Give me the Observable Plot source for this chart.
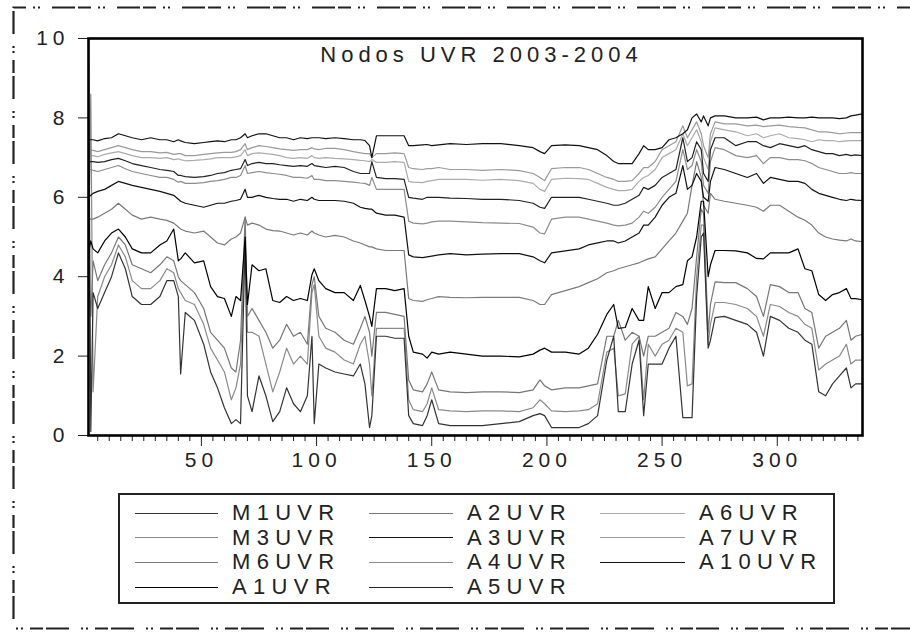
<!DOCTYPE html>
<html><head><meta charset="utf-8">
<script src="https://cdn.jsdelivr.net/npm/d3@7"></script>
<script src="https://cdn.jsdelivr.net/npm/@observablehq/plot@0.6"></script>
<style>
body{margin:0;background:#fff;}
#wrap{position:relative;width:910px;height:636px;overflow:hidden;font-family:"Liberation Sans",Arial,sans-serif;color:#222;}
#chart svg text{letter-spacing:5px;}
#chart svg .ttl{letter-spacing:5.4px;}
#legend{position:absolute;left:118px;top:493px;width:717px;height:111px;border:2px solid #222;box-sizing:border-box;}
.li{position:absolute;height:24px;display:flex;align-items:center;font-size:22px;letter-spacing:6.3px;white-space:nowrap;}
.li span.sw{display:inline-block;height:0;border-top:1.6px solid #000;margin-right:14px;}
#border{position:absolute;left:0;top:0;}
</style></head>
<body><div id="wrap"><div id="chart"></div><div id="legend"></div>
<svg id="border" width="910" height="636"><path d="M950 7.5 H13.5 V628.5 H950" fill="none" stroke="#222" stroke-width="2.2" stroke-dasharray="2 3 2 7 13 3 23 12"/></svg></div>
<script>
const days = [1,2,3,5,8, 11,14,17,20,24, 28,32,35,38,40, 41,43,47,51,54, 57,60,63,65,67, 69,70,72,75,78,
 81,84,87,90,93, 96,98,99,101,104, 108,112,116,119,121, 123,124,126,130,134, 138,140,142,146,148,
 150,153,158,165,172, 180,188,194,197,199, 202,208,214,218,222, 226,229,231,234,237, 240,242,244,247,250,
 253,256,259,261,263, 265,267,268,270,271, 273,277,282,287,291, 294,297,301,305,309, 312,315,318,321,324,
 327,330,332,334,337];

const A10UVR = [7.45,7.45,7.45,7.42,7.48, 7.5,7.6,7.55,7.5,7.45, 7.5,7.45,7.45,7.4,7.45, 7.42,7.38,7.35,7.38,7.4,
 7.42,7.4,7.45,7.45,7.5, 7.6,7.5,7.55,7.6,7.6, 7.55,7.5,7.5,7.45,7.5, 7.48,7.5,7.5,7.5,7.48,
 7.5,7.48,7.45,7.45,7.43, 7.3,7.0,7.55,7.55,7.55, 7.55,7.3,7.3,7.32,7.33, 7.3,7.32,7.35,7.33,7.35,
 7.35,7.3,7.25,7.15,7.1, 7.3,7.32,7.3,7.25,7.2, 7.05,6.9,6.85,6.85,6.85, 7.1,7.3,7.2,7.2,7.25,
 7.45,7.5,7.6,7.7,8.0, 8.1,7.9,8.05,7.8,8.0, 8.05,8.05,8.0,8.0,8.02, 7.95,8.0,8.0,8.02,8.0,
 8.0,8.02,8.0,8.0,8.0, 7.98,8.0,8.05,8.07,8.1];
const A7UVR = [7.2,7.2,7.18,7.15,7.2, 7.25,7.3,7.25,7.2,7.15, 7.15,7.12,7.13,7.08,7.1, 7.1,7.05,7.05,7.08,7.1,
 7.12,7.13,7.13,7.15,7.2, 7.35,7.2,7.25,7.3,7.28, 7.25,7.22,7.2,7.18,7.2, 7.2,7.25,7.22,7.2,7.23,
 7.23,7.2,7.15,7.12,7.1, 7.1,7.0,7.1,7.1,7.12, 7.1,6.75,6.72,6.7,6.72, 6.72,6.75,6.7,6.7,6.68,
 6.7,6.67,6.6,6.5,6.42, 6.72,6.75,6.75,6.7,6.6, 6.5,6.45,6.4,6.4,6.42, 6.6,6.75,6.75,6.9,7.2,
 7.3,7.4,7.8,7.5,7.7, 7.9,7.6,7.3,7.0,7.6, 7.9,7.85,7.85,7.8,7.82, 7.78,7.8,7.82,7.78,7.76,
 7.75,7.7,7.65,7.65,7.63, 7.6,7.62,7.63,7.63,7.63];
const A6UVR = [7.05,7.05,7.05,7.02,7.08, 7.12,7.15,7.1,7.05,7.0, 7.0,6.98,7.0,6.95,6.97, 6.95,6.92,6.93,6.95,6.97,
 7.0,7.0,7.0,7.02,7.05, 7.2,7.05,7.1,7.12,7.1, 7.08,7.05,7.0,6.98,7.0, 6.98,7.05,7.0,6.98,7.0,
 6.98,6.97,6.95,6.93,6.92, 6.9,6.95,6.88,6.88,6.9, 6.88,6.4,6.38,6.37,6.4, 6.42,6.45,6.45,6.45,6.43,
 6.45,6.42,6.35,6.2,6.15, 6.45,6.48,6.47,6.45,6.35, 6.25,6.2,6.17,6.17,6.2, 6.4,6.5,6.55,6.7,7.0,
 7.1,7.2,7.6,7.3,7.5, 7.7,7.4,7.0,6.7,7.4, 7.75,7.7,7.65,7.55,7.6, 7.5,7.55,7.6,7.5,7.48,
 7.45,7.4,7.45,7.43,7.43, 7.4,7.42,7.43,7.43,7.43];
const A5UVR = [6.9,6.9,6.9,6.88,6.9, 6.95,6.98,6.92,6.85,6.8, 6.75,6.7,6.68,6.65,6.55, 6.55,6.52,6.5,6.52,6.55,
 6.6,6.62,6.68,6.7,6.72, 6.95,6.8,6.85,6.88,6.85, 6.85,6.82,6.8,6.78,6.8, 6.78,6.85,6.8,6.78,6.75,
 6.78,6.75,6.65,6.6,6.6, 6.6,6.9,6.5,6.47,6.47, 6.45,6.0,5.98,5.95,6.0, 6.0,6.0,5.98,5.97,5.95,
 5.95,5.92,5.85,5.75,5.72, 6.0,6.0,6.0,5.95,5.9, 5.85,5.8,5.8,5.85,5.95, 6.05,6.25,6.2,6.3,6.5,
 6.6,6.7,7.5,6.9,7.0, 7.4,7.2,6.6,6.4,7.2, 7.5,7.5,7.3,7.4,7.4, 7.3,7.25,7.35,7.3,7.25,
 7.3,7.2,7.15,7.1,7.1, 7.05,7.08,7.05,7.07,7.05];
const A4UVR = [6.7,6.7,6.68,6.65,6.7, 6.75,6.8,6.72,6.65,6.6, 6.55,6.5,6.5,6.45,6.38, 6.4,6.35,6.35,6.37,6.4,
 6.42,6.45,6.5,6.5,6.55, 6.8,6.6,6.62,6.65,6.62, 6.6,6.58,6.55,6.5,6.5, 6.48,6.55,6.45,6.45,6.42,
 6.42,6.4,6.38,6.36,6.35, 6.3,6.5,6.2,6.2,6.2, 6.2,5.4,5.35,5.33,5.35, 5.38,5.4,5.4,5.38,5.36,
 5.35,5.34,5.25,5.1,5.08, 5.45,5.5,5.5,5.45,5.4, 5.35,5.3,5.28,5.3,5.35, 5.5,5.65,5.6,5.75,6.0,
 6.2,6.4,7.2,6.7,6.8, 7.2,6.9,6.3,6.1,6.9, 7.25,7.2,7.05,7.0,7.05, 6.85,7.0,7.0,6.95,6.95,
 6.92,6.85,6.75,6.7,6.65, 6.6,6.6,6.62,6.6,6.6];
const A3UVR = [6.0,6.05,6.1,6.15,6.2, 6.3,6.4,6.35,6.3,6.25, 6.2,6.15,6.1,6.05,5.95, 5.9,5.85,5.8,5.75,5.8,
 5.85,5.85,5.9,5.92,5.95, 6.2,6.0,6.0,6.05,6.0, 5.97,5.95,5.95,5.9,5.95, 5.92,6.0,5.95,5.92,5.92,
 5.92,5.9,5.85,5.75,5.72, 5.7,5.7,5.6,5.55,5.55, 5.5,4.55,4.5,4.48,4.5, 4.52,4.55,4.58,4.55,4.57,
 4.58,4.58,4.5,4.4,4.35, 4.6,4.65,4.7,4.8,4.85, 4.9,4.9,4.85,4.9,5.0, 5.1,5.3,5.3,5.5,5.8,
 6.0,6.1,6.8,6.2,6.3, 6.6,6.4,6.0,5.9,6.4, 6.75,6.7,6.6,6.5,6.6, 6.35,6.5,6.45,6.4,6.4,
 6.35,6.2,6.1,6.05,6.0, 5.95,5.92,5.95,5.93,5.92];
const A2UVR = [5.45,5.45,5.45,5.5,5.6, 5.7,5.85,5.7,5.55,5.45, 5.5,5.45,5.42,5.35,5.25, 5.2,5.15,5.1,5.15,5.0,
 4.85,4.8,4.95,5.0,5.1, 5.5,5.3,5.35,5.3,5.2, 5.16,5.15,5.1,5.05,5.1, 5.05,5.15,5.1,5.05,5.0,
 5.04,5.0,4.9,4.85,4.8, 4.75,4.75,4.7,4.66,4.66, 4.66,3.45,3.4,3.38,3.42, 3.45,3.5,3.48,3.47,3.48,
 3.48,3.48,3.4,3.3,3.3, 3.55,3.65,3.75,3.85,3.95, 4.1,4.15,4.2,4.25,4.3, 4.35,4.4,4.45,4.5,4.7,
 4.9,5.1,5.4,5.6,6.3, 6.9,6.5,5.8,5.6,6.1, 5.95,5.9,5.85,5.8,5.75, 5.65,5.8,5.8,5.65,5.5,
 5.42,5.3,5.1,5.0,4.95, 4.92,4.9,4.95,4.9,4.88];
const A1UVR = [4.6,4.9,4.7,4.6,4.9, 5.1,5.2,5.0,4.7,4.6, 4.6,4.8,4.9,5.2,4.4, 4.45,4.6,4.35,4.4,3.75,
 3.5,3.45,3.0,3.5,3.4, 5.0,3.3,4.3,4.15,4.2, 3.4,3.35,3.5,3.4,3.45, 3.4,4.05,4.2,3.9,3.7,
 3.6,3.6,3.4,3.78,3.4, 3.0,2.75,3.7,3.7,3.65, 3.7,2.5,2.1,2.05,1.95, 2.1,2.05,2.1,2.05,2.0,
 2.0,1.98,2.05,2.15,2.2, 2.1,2.1,2.05,2.2,2.55, 3.05,3.3,2.7,2.72,3.2, 2.9,2.9,3.75,3.2,3.6,
 3.6,3.75,3.8,4.4,4.5, 5.0,5.9,5.9,4.0,4.3, 4.66,4.66,4.65,4.6,4.46, 4.45,4.6,4.6,4.6,4.7,
 4.2,4.15,3.55,3.4,3.55, 3.6,3.7,3.45,3.45,3.42];
const M6UVR = [4.2,3.0,4.4,3.9,4.3, 4.6,5.0,4.8,4.3,4.2, 4.1,4.3,4.5,4.4,4.0, 3.9,3.8,3.6,3.2,2.6,
 2.4,2.2,1.7,1.6,2.4, 5.5,3.0,3.2,2.9,2.6, 2.2,2.4,2.8,2.5,2.6, 2.3,3.8,4.0,3.0,2.7,
 2.6,2.4,2.3,2.7,3.0, 2.6,2.0,3.1,3.1,3.05, 3.0,1.4,1.15,1.1,1.3, 1.6,1.15,1.1,1.08,1.1,
 1.1,1.08,1.15,1.4,1.25, 1.15,1.2,1.2,1.25,1.3, 2.5,2.5,2.9,2.4,2.6, 2.5,2.0,2.5,2.5,2.6,
 2.7,3.1,3.0,2.8,3.2, 4.5,5.7,5.6,2.6,3.3, 3.87,3.85,3.85,3.7,3.5, 3.0,3.8,3.75,3.6,3.6,
 3.2,3.1,2.2,2.5,2.6, 2.7,2.9,2.4,2.5,2.55];
const M3UVR = [4.0,8.6,1.1,3.5,4.0, 4.3,4.8,4.5,3.9,3.7, 3.7,3.9,4.2,4.1,3.7, 3.6,3.4,3.3,2.8,2.2,
 1.9,1.6,0.9,1.2,1.8, 5.2,2.6,2.6,2.5,1.8, 1.1,1.6,2.2,1.8,2.0, 1.8,3.6,3.8,2.5,2.2,
 2.1,1.9,1.8,2.3,2.5, 1.8,1.0,2.7,2.7,2.7, 2.7,0.9,0.65,0.6,0.8, 1.2,0.65,0.62,0.6,0.62,
 0.62,0.6,0.7,0.9,0.8, 0.62,0.6,0.62,0.65,0.8, 2.1,2.2,1.0,1.05,2.3, 2.5,0.9,2.3,2.0,2.3,
 2.4,2.7,2.6,1.25,1.3, 4.0,5.3,5.3,2.3,2.8, 3.35,3.35,3.3,3.2,3.0, 2.5,3.3,3.25,3.1,3.0,
 2.8,2.7,1.65,1.8,1.9, 2.0,2.3,1.8,1.9,1.9];
const M1UVR = [10,0.1,3.6,3.2,3.6, 4.0,4.6,4.2,3.5,3.3, 3.3,3.5,3.9,3.9,3.5, 1.55,3.1,2.9,2.3,1.6,
 1.2,0.7,0.3,0.4,0.3, 4.9,1.0,0.6,1.5,1.0, 0.35,0.6,1.2,0.8,0.6, 1.0,2.5,0.3,1.8,1.7,
 1.6,1.55,1.5,1.8,1.3, 0.2,0.5,2.5,2.5,2.45, 2.45,0.5,0.3,0.25,0.5, 0.9,0.3,0.25,0.25,0.25,
 0.3,0.35,0.5,0.55,0.5, 0.2,0.2,0.2,0.3,0.5, 1.9,2.5,0.6,0.6,1.8, 2.4,0.5,1.8,1.8,1.8,
 2.2,2.5,0.45,0.45,0.45, 3.5,5.0,5.1,2.2,2.4, 2.97,3.0,2.9,2.8,2.6, 2.0,3.0,2.9,2.7,2.6,
 2.4,2.3,1.1,1.0,1.3, 1.5,1.7,1.2,1.3,1.3];

const seriesNames = ["M1UVR","M3UVR","M6UVR","A1UVR","A2UVR","A3UVR","A4UVR","A5UVR","A6UVR","A7UVR","A10UVR"];
const seriesValues = [M1UVR,M3UVR,M6UVR,A1UVR,A2UVR,A3UVR,A4UVR,A5UVR,A6UVR,A7UVR,A10UVR];
const seriesColors = ["#333333","#8a8a8a","#777777","#000000","#7a7a7a","#111111","#8c8c8c","#222222","#ababab","#9a9a9a","#111111"];
const drawOrder = ["A6UVR","A7UVR","A4UVR","A2UVR","M3UVR","M6UVR","M1UVR","A5UVR","A3UVR","A1UVR","A10UVR"];
const yTicks = [0,2,4,6,8,10];
const xTicks = [50,100,150,200,250,300];
const xMinor = d3.range(5, 337, 5).filter(d => d % 50 !== 0);
const title = "Nodos UVR 2003-2004";

const rows = drawOrder.flatMap(name => {
  const vals = seriesValues[seriesNames.indexOf(name)];
  return days.map((d, j) => ({day: d, value: vals[j], series: name}));
});

const chart = Plot.plot({
  width: 910, height: 475,
  marginLeft: 88, marginRight: 48, marginTop: 38, marginBottom: 40,
  x: {domain: [1, 337]},
  y: {domain: [0, 10]},
  color: {domain: seriesNames, range: seriesColors},
  style: {fontFamily: "Liberation Sans, Arial, sans-serif", fontSize: "21px", color: "#222", background: "transparent"},
  marks: [
    Plot.line(rows, {x: "day", y: "value", z: "series", stroke: "series", strokeWidth: 1.2}),
    Plot.axisY({ticks: yTicks, tickSize: 10, tickPadding: 9, label: null, tickFormat: d => String(d)}),
    Plot.axisX({ticks: xMinor, tickSize: 6, label: null, tickFormat: () => ""}),
    Plot.axisX({ticks: xTicks, tickSize: 11, tickPadding: 6, label: null, tickFormat: d => String(d)}),
    Plot.frame({stroke: "#000", strokeWidth: 2.6}),
    Plot.text([title], {text: d => d, frameAnchor: "top", lineAnchor: "middle", dy: 16, dx: 6, fontSize: 22, className: "ttl"})
  ]
});
document.getElementById("chart").appendChild(chart);

// legend
const cols = [{line: 135, w: 83}, {line: 369, w: 84}, {line: 600, w: 85}];
const rowY = [513, 537.5, 562, 587];
const legendOrder = [["M1UVR","M3UVR","M6UVR","A1UVR"],["A2UVR","A3UVR","A4UVR","A5UVR"],["A6UVR","A7UVR","A10UVR"]];
const leg = d3.select("#wrap");
legendOrder.forEach((col, ci) => col.forEach((name, ri) => {
  const item = leg.append("div").attr("class", "li")
    .style("left", cols[ci].line + "px").style("top", (rowY[ri] - 12) + "px");
  item.append("span").attr("class", "sw").style("width", cols[ci].w + "px")
    .style("border-top-color", seriesColors[seriesNames.indexOf(name)]);
  item.append("span").text(name);
}));
</script></body></html>
